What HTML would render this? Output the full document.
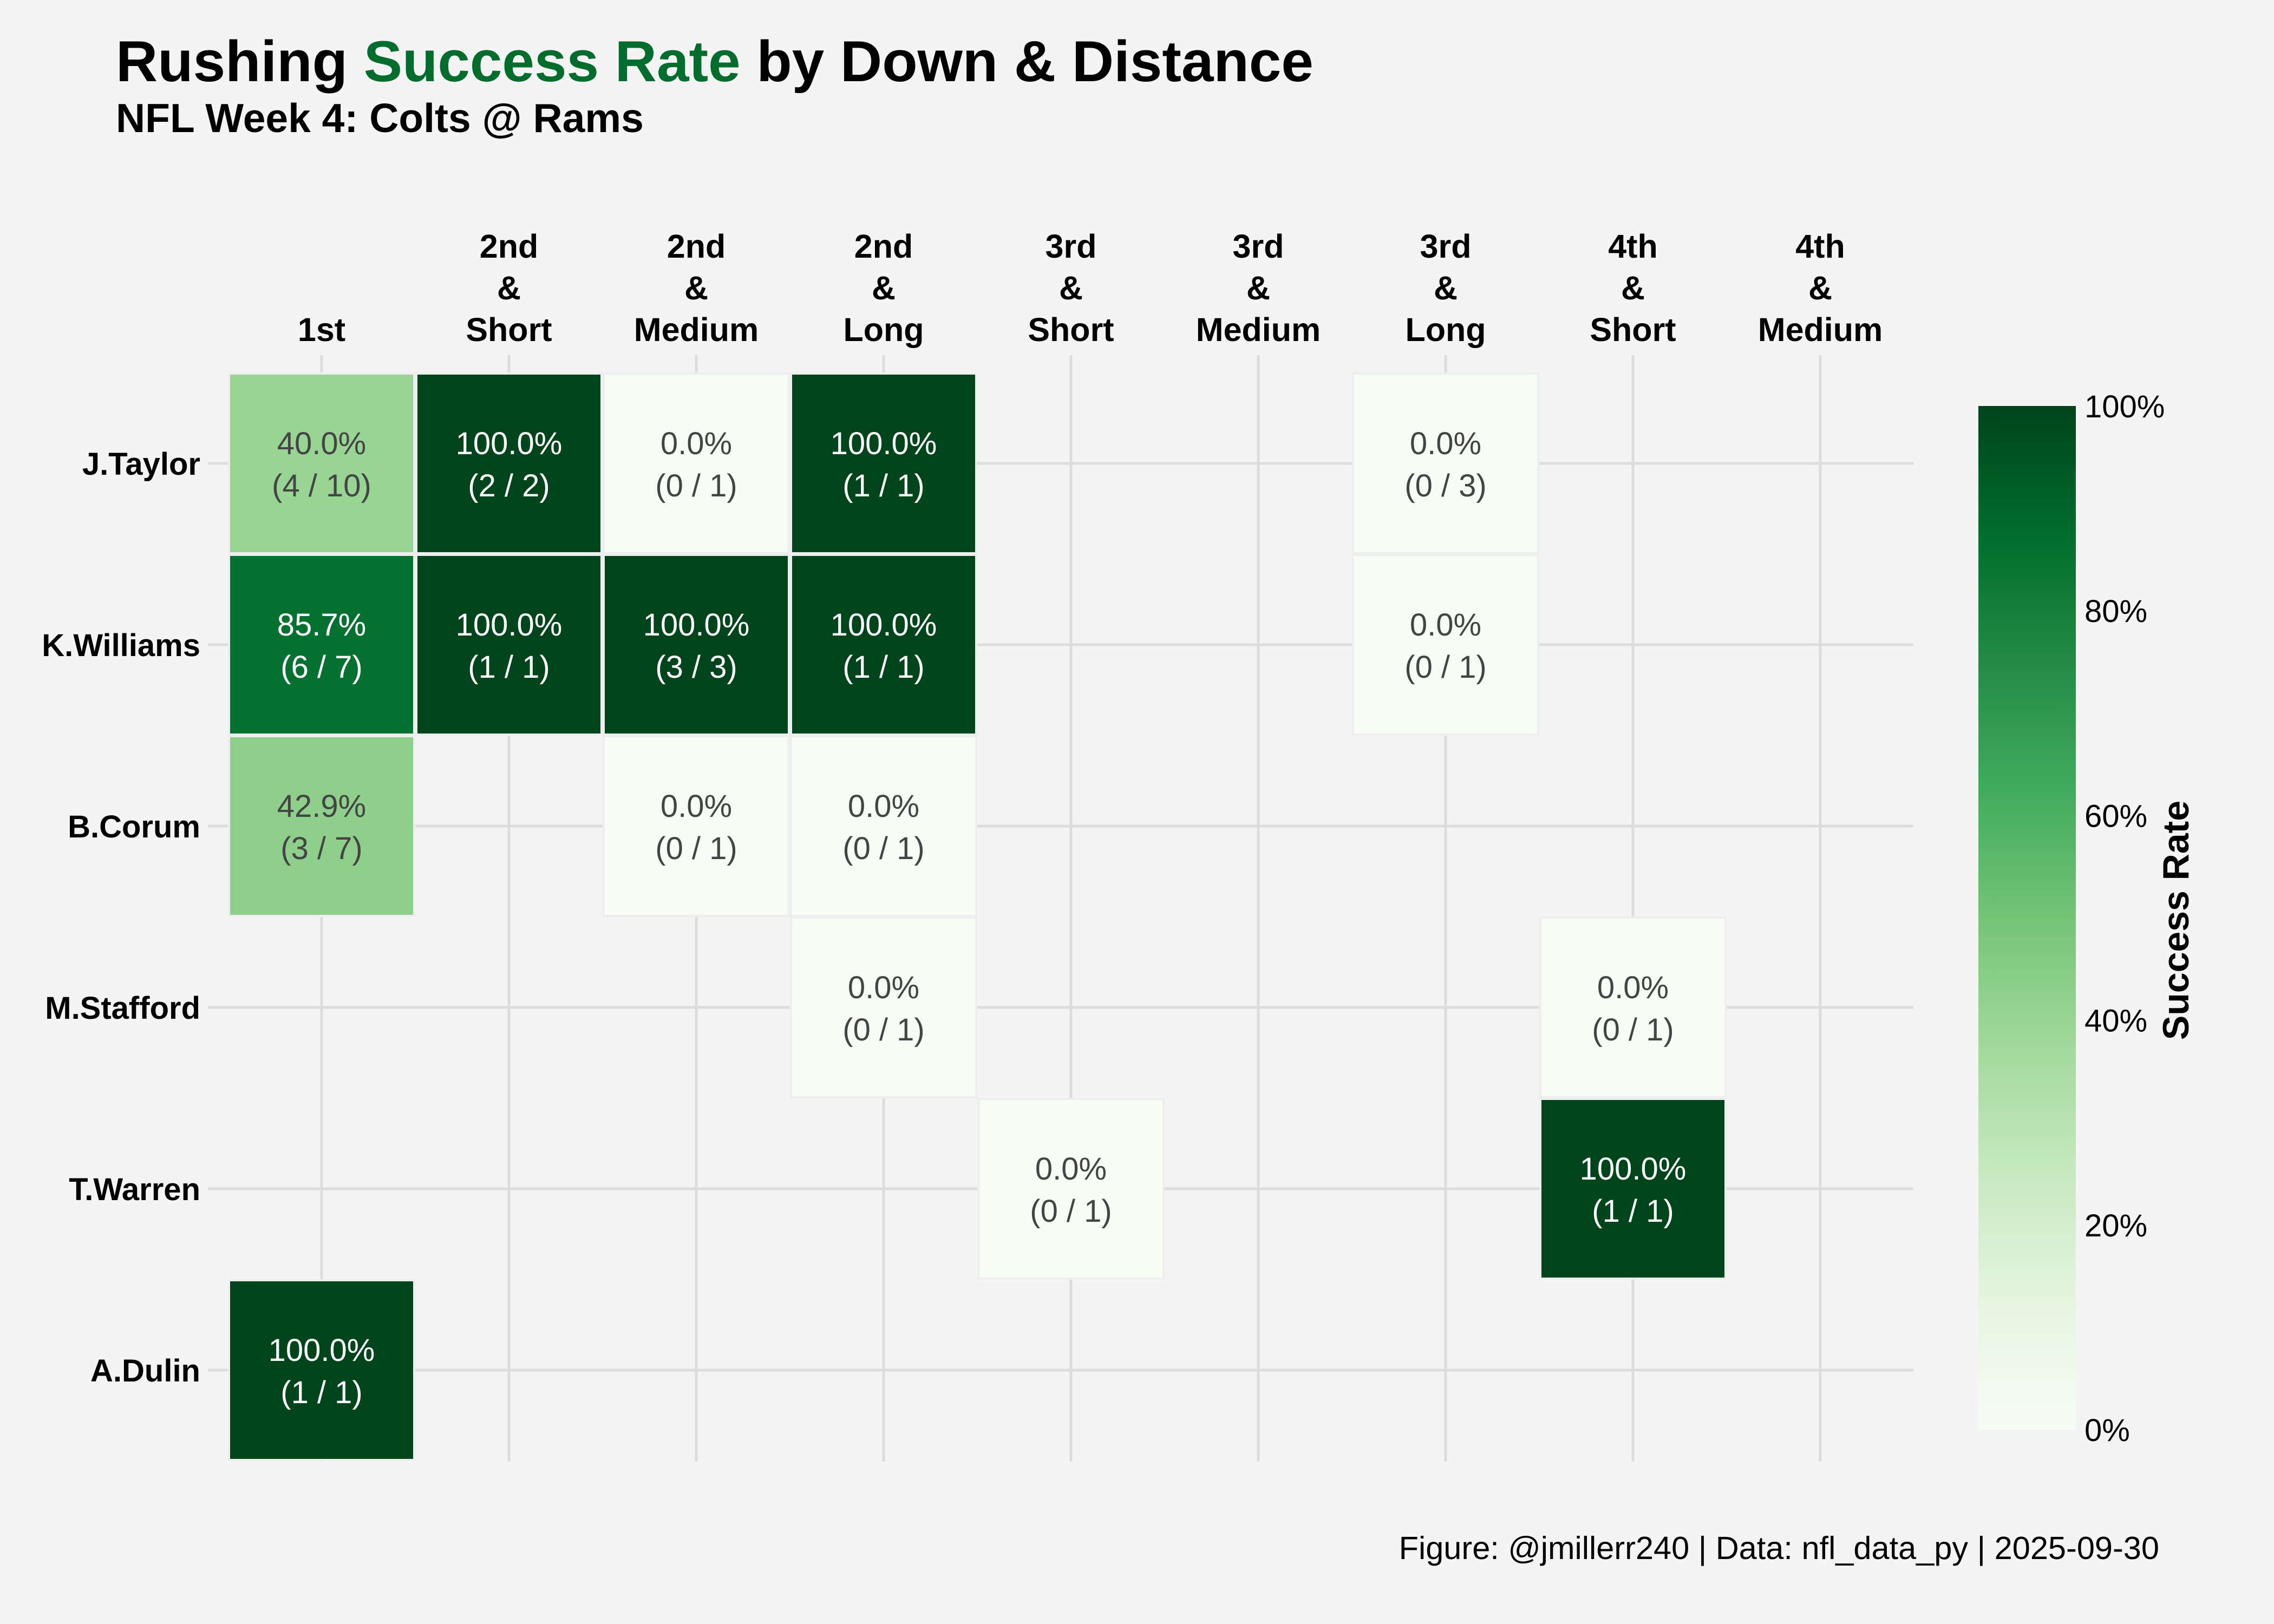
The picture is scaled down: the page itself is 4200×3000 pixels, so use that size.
<!DOCTYPE html>
<html><head><meta charset="utf-8"><style>
html,body{margin:0;padding:0;background:#f4f4f4;}
svg{display:block;font-family:"Liberation Sans",Arial,sans-serif;}
</style></head><body>
<svg id="chart" width="4200" height="3000" viewBox="0 0 4200 3000" xmlns="http://www.w3.org/2000/svg">
<rect width="4200" height="3000" fill="#f4f4f4"/>
<text x="214" y="150" font-size="107" font-weight="bold" fill="#000">Rushing <tspan fill="#006d2c">Success Rate</tspan> by Down &amp; Distance</text>
<text x="214" y="244" font-size="75" font-weight="bold" fill="#000">NFL Week 4: Colts @ Rams</text>
<g id="grid"></g><g id="cells"></g><g id="xlabels"></g><g id="ylabels"></g>
<defs><linearGradient id="cbgrad" x1="0" y1="1" x2="0" y2="0">
<stop offset="0" stop-color="#f7fcf5"/><stop offset="0.125" stop-color="#e5f5e0"/><stop offset="0.25" stop-color="#c7e9c0"/><stop offset="0.375" stop-color="#a1d99b"/><stop offset="0.5" stop-color="#74c476"/><stop offset="0.625" stop-color="#41ab5d"/><stop offset="0.75" stop-color="#238b45"/><stop offset="0.875" stop-color="#006d2c"/><stop offset="1" stop-color="#00441b"/>
</linearGradient></defs>
<rect x="3654" y="750" width="180" height="1891" fill="url(#cbgrad)"/>
<g id="cbticks"></g>
<text transform="translate(4042,1700) rotate(-90)" text-anchor="middle" font-size="68" font-weight="bold" fill="#000">Success Rate</text>
<text x="3988" y="2880" text-anchor="end" font-size="59.5" fill="#000">Figure: @jmillerr240 | Data: nfl_data_py | 2025-09-30</text>
</svg>
<script>
const players = ["J.Taylor","K.Williams","B.Corum","M.Stafford","T.Warren","A.Dulin"];
const situations = [["1st"],["2nd","&","Short"],["2nd","&","Medium"],["2nd","&","Long"],["3rd","&","Short"],["3rd","&","Medium"],["3rd","&","Long"],["4th","&","Short"],["4th","&","Medium"]];
const cellRow = [0,0,0,0,0, 1,1,1,1,1, 2,2,2, 3,3, 4,4, 5];
const cellCol = [0,1,2,3,6, 0,1,2,3,6, 0,2,3, 3,7, 4,7, 0];
const successes = [4,2,0,1,0, 6,1,3,1,0, 3,0,0, 0,0, 0,1, 1];
const attempts = [10,2,1,1,3, 7,1,3,1,1, 7,1,1, 1,1, 1,1, 1];
const cbTicks = [0,0.2,0.4,0.6,0.8,1];
const cbTickLabels = ["0%","20%","40%","60%","80%","100%"];

const NS="http://www.w3.org/2000/svg";
const colX = i => 594 + 346*i;
const rowY = i => 856 + 335*i;
const cbY = v => 2641 - v*1891;
const stops=["#f7fcf5","#e5f5e0","#c7e9c0","#a1d99b","#74c476","#41ab5d","#238b45","#006d2c","#00441b"];
function hex(h){return [1,3,5].map(i=>parseInt(h.substr(i,2),16));}
function color(v){const t=v*8,i=Math.min(7,Math.floor(t)),f=t-i;const a=hex(stops[i]),b=hex(stops[i+1]);return "rgb("+a.map((c,k)=>Math.round(c+(b[k]-c)*f)).join(",")+")";}
function mk(tag,attrs,parent){const e=document.createElementNS(NS,tag);for(const k in attrs)e.setAttribute(k,attrs[k]);parent.appendChild(e);return e;}

const grid=document.getElementById("grid");
players.forEach((p,i)=>{
  const l=mk("line",{x1:384,x2:3534,y1:rowY(i),y2:rowY(i),stroke:"#dcdcdc","stroke-width":5},grid);
  
  
});
situations.forEach((s,i)=>{
  const l=mk("line",{x1:colX(i),x2:colX(i),y1:656,y2:2700,stroke:"#dcdcdc","stroke-width":5},grid);
  
  
});
const cells=document.getElementById("cells");
for(let k=0;k<cellRow.length;k++){
  const v=successes[k]/attempts[k];
  const cx=colX(cellCol[k]), cy=rowY(cellRow[k]);
  const r=mk("rect",{x:cx-171,y:cy-166,width:342,height:332,fill:color(v),stroke:"#eeeeee","stroke-width":4},cells);
  
  
  const tc=v>0.6?"#ffffff":"#444444";
  const t1=mk("text",{x:cx,y:cy-17,"text-anchor":"middle","font-size":58,fill:tc},cells);
  t1.textContent=(v*100).toFixed(1)+"%";
  
  
  const t2=mk("text",{x:cx,y:cy+61,"text-anchor":"middle","font-size":58,fill:tc},cells);
  t2.textContent="("+successes[k]+" / "+attempts[k]+")";
  
  
}
const xl=document.getElementById("xlabels");
situations.forEach((s,i)=>{
  const t=mk("text",{"text-anchor":"middle","font-size":61,"font-weight":"bold",fill:"#000"},xl);
  
  
  s.forEach((line,j)=>{const ts=mk("tspan",{x:colX(i),y:630-77*(s.length-1-j)},t);ts.textContent=line;});
});
const yl=document.getElementById("ylabels");
players.forEach((p,i)=>{
  const t=mk("text",{x:370,y:rowY(i)+21,"text-anchor":"end","font-size":58,"font-weight":"bold",fill:"#000"},yl);
  t.textContent=p;
  
  
});
const cb=document.getElementById("cbticks");
cbTicks.forEach((v,i)=>{
  const t=mk("text",{x:3850,y:cbY(v)+21,"font-size":58,fill:"#000"},cb);
  t.textContent=cbTickLabels[i];
  
  
});
</script>
</body></html>
